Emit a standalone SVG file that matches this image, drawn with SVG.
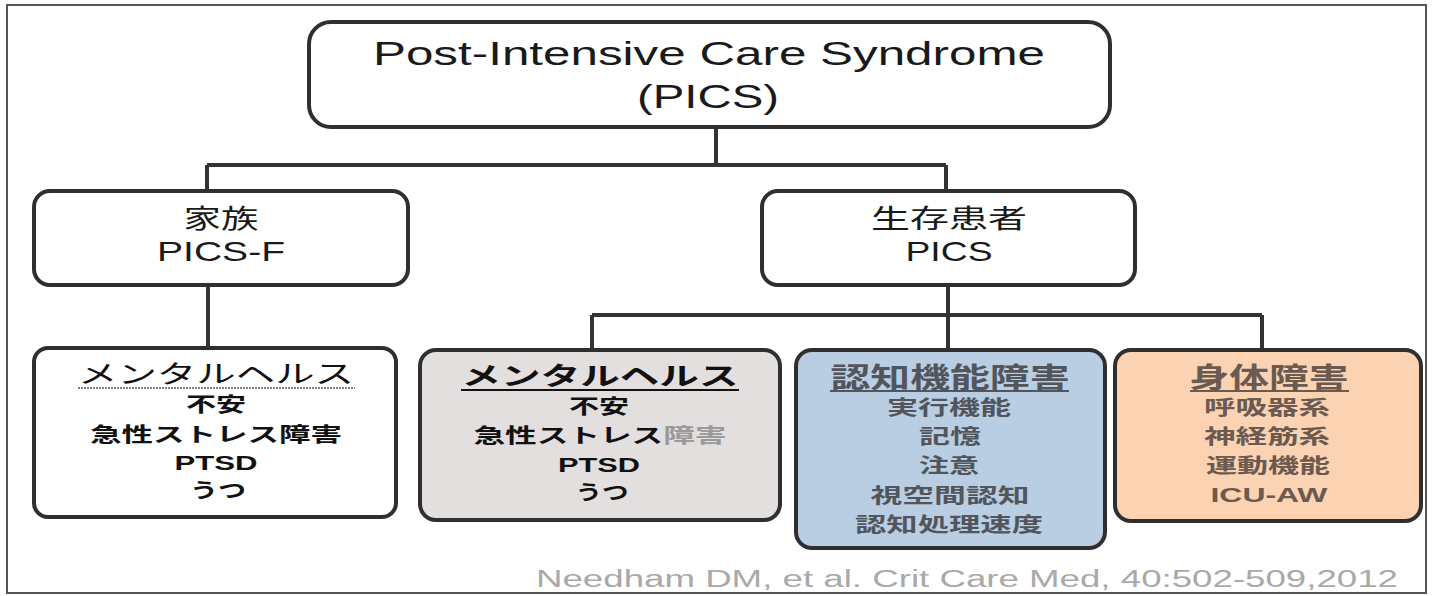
<svg xmlns="http://www.w3.org/2000/svg" width="1435" height="596" viewBox="0 0 1435 596">
<style>
.box{stroke:#2f2f2f;stroke-width:4}
.lines path{fill:none;stroke:#333;stroke-width:4}
.en{font-family:"Liberation Sans",Arial,sans-serif;text-anchor:middle}
.jp{font-family:"Liberation Sans","Noto Sans CJK JP",sans-serif;text-anchor:middle}
</style>
<rect x="0" y="0" width="1435" height="596" fill="#fff"/>
<rect x="7" y="5" width="1419" height="588" fill="none" stroke="#555" stroke-width="2"/>
<g class="lines" id="connectors">
<path d="M716 128V165M207 165H946M207 165V190M946 165V190"/>
<path d="M208 285V348"/>
<path d="M948 285V315M592 315H1262M592 315V350M948 315V350M1262 315V350"/>
</g>
<g id="root">
<rect class="box" x="309" y="22" width="801" height="105" rx="22" fill="#fff"/>
<text class="en" x="709" y="65" font-size="34" fill="#1a1a1a" textLength="672" lengthAdjust="spacingAndGlyphs">Post-Intensive Care Syndrome</text>
<text class="en" x="708" y="108" font-size="34" fill="#1a1a1a" textLength="142" lengthAdjust="spacingAndGlyphs">(PICS)</text>
</g>
<g id="family">
<rect class="box" x="34" y="191" width="374" height="94" rx="16" fill="#fff"/>
<text class="jp" x="221" y="228" font-size="26" fill="#1a1a1a" textLength="75" lengthAdjust="spacingAndGlyphs">家族</text>
<text class="en" x="221" y="261" font-size="28" fill="#1a1a1a" textLength="128" lengthAdjust="spacingAndGlyphs">PICS-F</text>
</g>
<g id="patient">
<rect class="box" x="762" y="191" width="373" height="94" rx="16" fill="#fff"/>
<text class="jp" x="949" y="228" font-size="26" fill="#1a1a1a" textLength="156" lengthAdjust="spacingAndGlyphs">生存患者</text>
<text class="en" x="949" y="261" font-size="28" fill="#1a1a1a" textLength="87" lengthAdjust="spacingAndGlyphs">PICS</text>
</g>
<g id="family-mental">
<rect class="box" x="34" y="348" width="362" height="169" rx="14" fill="#fff"/>
<text class="jp" x="216" y="383" font-size="25" fill="#111" textLength="276" lengthAdjust="spacingAndGlyphs">メンタルヘルス</text>
<line x1="78" y1="388" x2="355" y2="388" stroke="#555" stroke-width="1.5" stroke-dasharray="2 1"/>
<text class="jp" x="216" y="412" font-size="20" font-weight="bold" fill="#111" textLength="60" lengthAdjust="spacingAndGlyphs">不安</text>
<text class="jp" x="216" y="442" font-size="20" font-weight="bold" fill="#111" textLength="252" lengthAdjust="spacingAndGlyphs">急性ストレス障害</text>
<text class="en" x="216" y="470" font-size="21" font-weight="bold" fill="#111" textLength="83" lengthAdjust="spacingAndGlyphs">PTSD</text>
<text class="jp" x="218" y="498" font-size="20" font-weight="bold" fill="#111" textLength="56" lengthAdjust="spacingAndGlyphs">うつ</text>
</g>
<g id="patient-mental">
<rect class="box" x="420" y="350" width="360" height="170" rx="16" fill="#e3dfdf"/>
<text class="jp" x="600" y="385" font-size="25" font-weight="bold" fill="#111" textLength="277" lengthAdjust="spacingAndGlyphs">メンタルヘルス</text>
<line x1="461" y1="390" x2="739" y2="390" stroke="#111" stroke-width="2"/>
<text class="jp" x="599" y="414" font-size="20" font-weight="bold" fill="#111" textLength="60" lengthAdjust="spacingAndGlyphs">不安</text>
<text class="jp" x="600" y="443" font-size="20" font-weight="bold" fill="#111" textLength="253" lengthAdjust="spacingAndGlyphs">急性ストレス<tspan fill="#9a9a9a">障害</tspan></text>
<text class="en" x="599" y="472" font-size="21" font-weight="bold" fill="#111" textLength="82" lengthAdjust="spacingAndGlyphs">PTSD</text>
<text class="jp" x="602" y="500" font-size="20" font-weight="bold" fill="#111" textLength="53" lengthAdjust="spacingAndGlyphs">うつ</text>
</g>
<g id="cognitive">
<rect class="box" x="796" y="350" width="309" height="198" rx="16" fill="#b9cde3"/>
<text class="jp" x="950" y="388" font-size="28" font-weight="bold" fill="#52565c" textLength="239" lengthAdjust="spacingAndGlyphs">認知機能障害</text>
<line x1="830" y1="391" x2="1069" y2="391" stroke="#52565c" stroke-width="2"/>
<text class="jp" x="949" y="415" font-size="20" font-weight="bold" fill="#52565c" textLength="124" lengthAdjust="spacingAndGlyphs">実行機能</text>
<text class="jp" x="950" y="444" font-size="20" font-weight="bold" fill="#52565c" textLength="62" lengthAdjust="spacingAndGlyphs">記憶</text>
<text class="jp" x="949" y="473" font-size="20" font-weight="bold" fill="#52565c" textLength="60" lengthAdjust="spacingAndGlyphs">注意</text>
<text class="jp" x="950" y="503" font-size="20" font-weight="bold" fill="#52565c" textLength="159" lengthAdjust="spacingAndGlyphs">視空間認知</text>
<text class="jp" x="949" y="532" font-size="20" font-weight="bold" fill="#52565c" textLength="188" lengthAdjust="spacingAndGlyphs">認知処理速度</text>
</g>
<g id="physical">
<rect class="box" x="1115" y="350" width="306" height="171" rx="16" fill="#fbd2b2"/>
<text class="jp" x="1269" y="388" font-size="28" font-weight="bold" fill="#6b5a50" textLength="159" lengthAdjust="spacingAndGlyphs">身体障害</text>
<line x1="1190" y1="391" x2="1349" y2="391" stroke="#6b5a50" stroke-width="2"/>
<text class="jp" x="1267" y="415" font-size="20" font-weight="bold" fill="#6b5a50" textLength="126" lengthAdjust="spacingAndGlyphs">呼吸器系</text>
<text class="jp" x="1267" y="444" font-size="20" font-weight="bold" fill="#6b5a50" textLength="126" lengthAdjust="spacingAndGlyphs">神経筋系</text>
<text class="jp" x="1268" y="473" font-size="20" font-weight="bold" fill="#6b5a50" textLength="124" lengthAdjust="spacingAndGlyphs">運動機能</text>
<text class="en" x="1269" y="502" font-size="21" font-weight="bold" fill="#6b5a50" textLength="117" lengthAdjust="spacingAndGlyphs">ICU-AW</text>
</g>
<text class="en" x="967" y="587" font-size="23" fill="#a9a9a9" textLength="862" lengthAdjust="spacingAndGlyphs">Needham DM, et al. Crit Care Med, 40:502-509,2012</text>
</svg>
